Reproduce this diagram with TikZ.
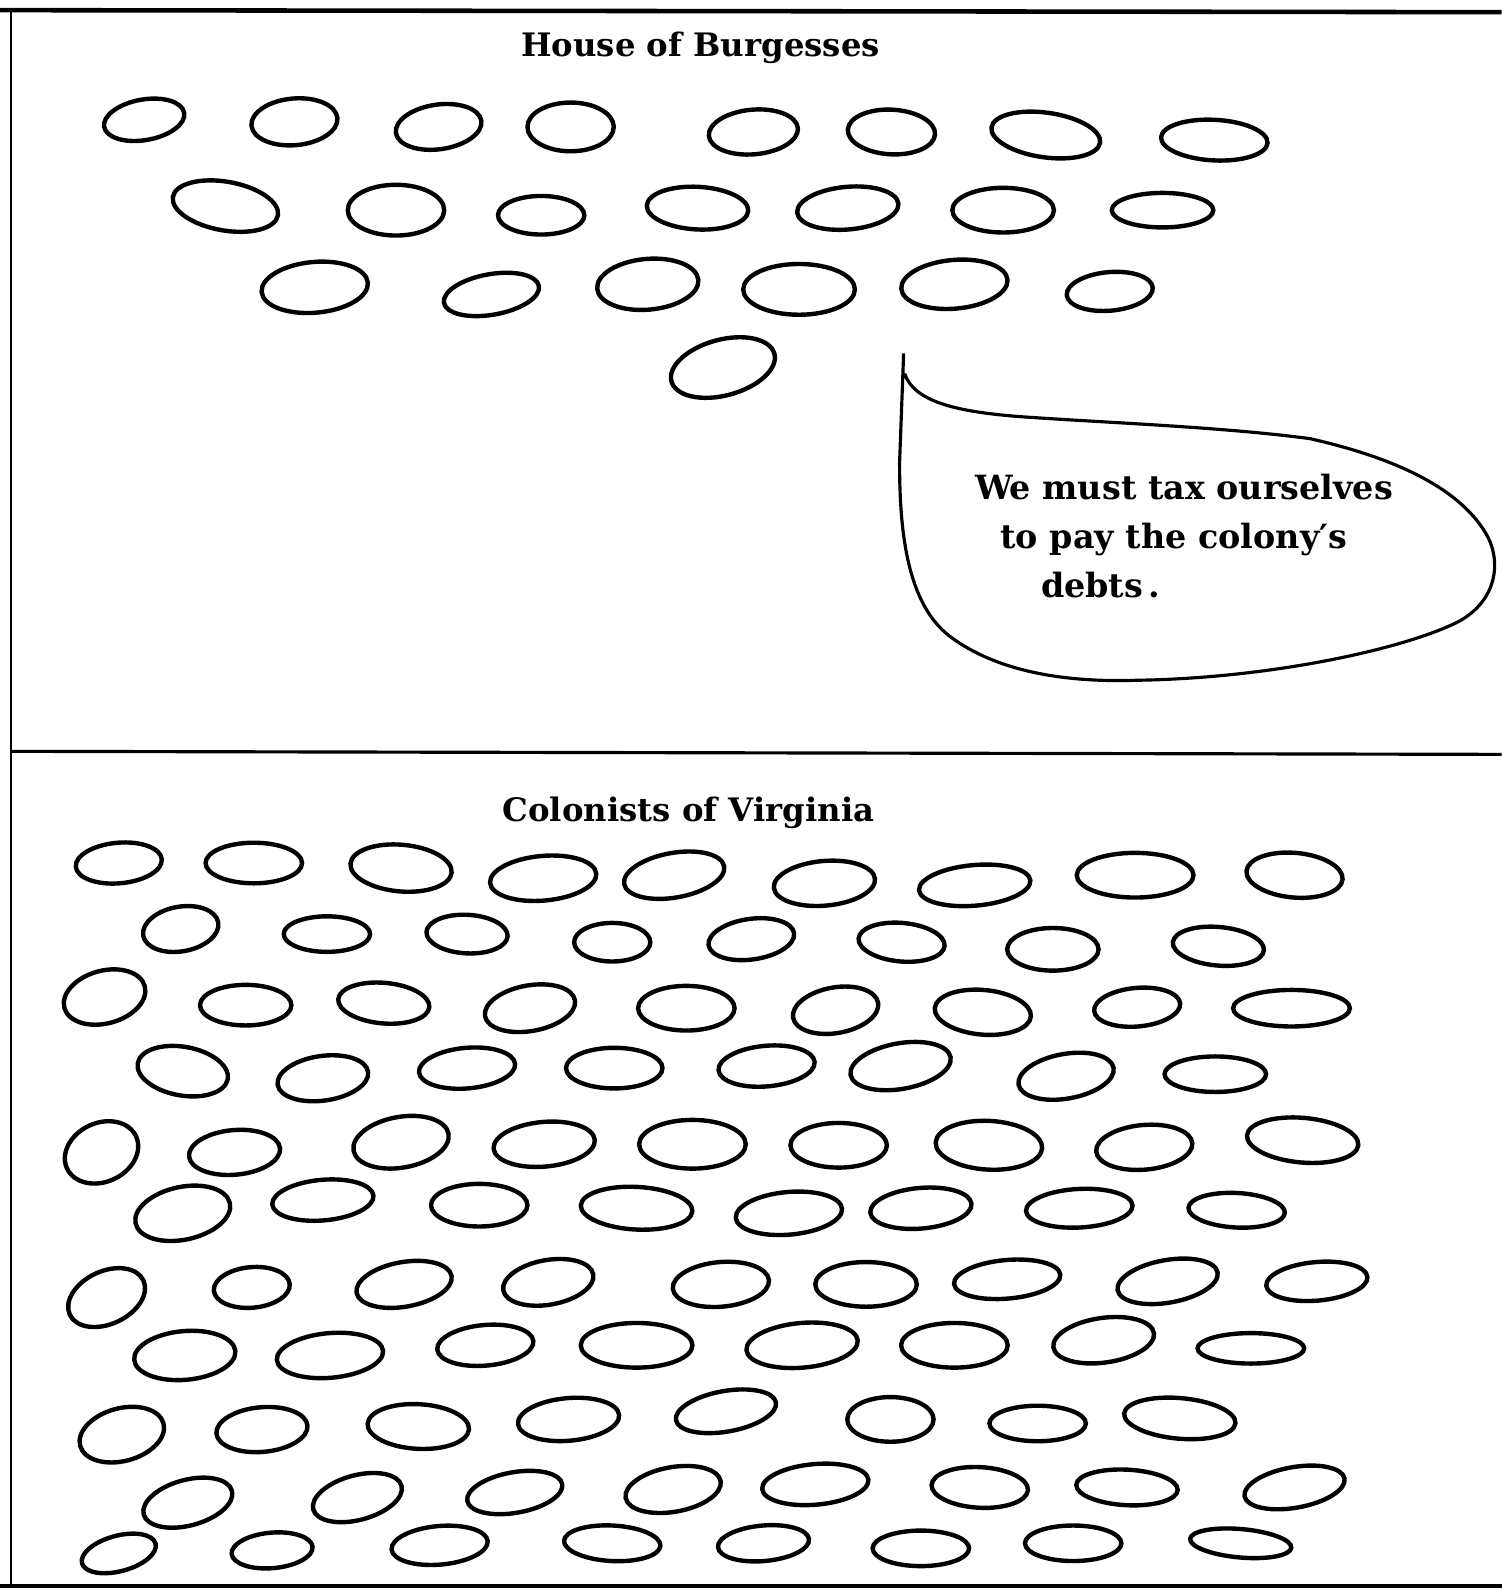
\documentclass[tikz,border=0pt]{standalone}
\usepackage{fontspec}
\setmainfont{DejaVu Serif}
\begin{document}
\begin{tikzpicture}[x=0.020312cm,y=-0.020312cm,
  oval/.style={line width=2.5pt,line cap=round},
  frameline/.style={line width=1.8pt},
  bubble/.style={line width=1.8pt,line join=round},
  lbl/.style={font=\fontsize{19}{22}\selectfont\bfseries,inner sep=0pt,anchor=base west},
  ttl/.style={font=\fontsize{18.4}{22}\selectfont\bfseries,inner sep=0pt,anchor=base}]
\useasboundingbox (0,0) rectangle (1479,1568);
% frame
\coordinate (tl) at (0,10);
\coordinate (tr) at (1479,12);
\coordinate (lt) at (11,10);
\coordinate (lb) at (11,1562);
\coordinate (ml) at (11,740);
\coordinate (mr) at (1479,743);
\coordinate (bl) at (0,1562);
\coordinate (br) at (1479,1562);
\draw[frameline,line width=2.6pt] (tl) -- (tr);
\draw[frameline,line width=1.3pt] (lt) -- (lb);
\draw[frameline] (ml) -- (mr);
\draw[frameline] (bl) -- (br);
% titles
\node[ttl] (hob) at (690,56) {House of Burgesses};
\node[ttl] (cov) at (678,809) {Colonists of Virginia};
% speech bubble
\draw[bubble] (890,348) -- (886,456) .. controls (886,530) and (895,600) .. (940,630)
  .. controls (990,665) and (1060,672) .. (1120,670)
  .. controls (1250,668) and (1380,640) .. (1435,613)
  .. controls (1470,595) and (1480,560) .. (1466,530)
  .. controls (1440,480) and (1370,450) .. (1290,432)
  .. controls (1200,420) and (1080,416) .. (1000,410)
  .. controls (940,405) and (900,395) .. (891,368);
\node[lbl] (s1) at (960,492) {We must tax ourselves};
\node[lbl] (s2) at (985,540) {to pay the colony′s};
\node[lbl] (s3) at (1025,588) {debts\,.};
% House of Burgesses ovals
\foreach \x/\y/\w/\h/\r in {
142/118/80/40/10, 290/120/85/46/5, 432/125/85/44/8, 562/125/85/48/0, 742/130/88/44/5, 878/130/86/44/-3, 1030/133/108/44/-8, 1196/138/105/40/-3,
222/203/105/48/-10, 390/207/95/50/0, 533/212/85/38/0, 687/205/100/42/-3, 835/205/100/42/5, 988/207/100/44/0, 1145/207/100/34/0,
310/283/105/50/5, 484/290/95/40/10, 638/280/100/50/5, 787/285/110/50/0, 940/280/105/48/5, 1093/287/85/38/5,
712/362/105/55/15}
  \draw[oval,rotate around={\r:(\x,\y)}] (\x,\y) ellipse [x radius=\w/2, y radius=\h/2];
% Colonists ovals
\foreach \x/\y/\w/\h/\r in {
117/850/85/40/5, 250/850/95/40/0, 395/855/100/46/-5, 535/865/105/44/5, 664/862/100/44/10, 812/870/100/44/5, 960/872/110/40/5, 1118/862/115/44/0, 1275/862/95/44/-5,
178/915/75/44/10, 322/920/85/35/0, 460/920/80/38/-3, 603/928/75/38/0, 740/925/85/40/8, 888/928/85/38/-5, 1037/935/90/42/0, 1200/932/90/38/-5,
103/982/82/52/15, 242/990/90/40/0, 378/988/90/40/-5, 522/993/90/45/10, 676/993/95/44/0, 823/995/85/45/10, 968/997/95/44/-5, 1120/992/85/38/5, 1272/993/115/36/0,
180/1055/90/48/-10, 318/1062/90/44/8, 460/1052/95/40/5, 605/1052/95/40/0, 755/1050/95/40/5, 887/1050/100/45/10, 1050/1060/95/44/10, 1197/1058/100/35/0,
100/1135/75/58/25, 231/1135/90/44/5, 395/1125/95/50/10, 536/1127/100/44/5, 682/1127/105/48/0, 826/1128/95/44/0, 974/1128/105/48/-3, 1127/1130/95/44/5, 1283/1123/110/44/-5,
180/1195/95/52/12, 318/1182/100/40/5, 472/1187/95/42/0, 627/1190/110/42/-3, 777/1195/105/42/5, 907/1190/100/40/5, 1063/1190/105/38/3, 1218/1192/95/34/-3,
105/1278/80/52/25, 248/1268/75/40/5, 398/1265/95/44/10, 540/1263/90/44/10, 710/1265/95/44/5, 853/1265/100/44/0, 992/1260/105/38/5, 1150/1262/100/42/10, 1297/1262/100/38/5,
182/1335/100/48/5, 325/1335/105/44/5, 478/1325/95/40/5, 627/1325/110/44/0, 790/1325/110/44/5, 940/1325/105/44/0, 1087/1320/100/44/8, 1232/1328/105/30/0,
120/1413/85/52/15, 258/1408/90/44/5, 412/1405/100/44/-3, 560/1398/100/42/5, 715/1390/100/40/10, 877/1398/85/44/0, 1022/1402/95/35/0, 1162/1397/110/40/-5,
185/1480/90/45/15, 352/1475/90/44/15, 507/1470/95/40/10, 663/1467/95/44/10, 803/1462/105/40/5, 965/1465/95/40/-3, 1110/1465/100/35/-3, 1275/1465/100/40/10,
117/1530/75/35/15, 268/1527/80/35/5, 433/1522/95/38/5, 603/1520/95/35/-3, 752/1520/90/35/5, 907/1525/95/35/0, 1057/1520/95/35/0, 1222/1520/100/28/-5}
  \draw[oval,rotate around={\r:(\x,\y)}] (\x,\y) ellipse [x radius=\w/2, y radius=\h/2];
\end{tikzpicture}
\end{document}
